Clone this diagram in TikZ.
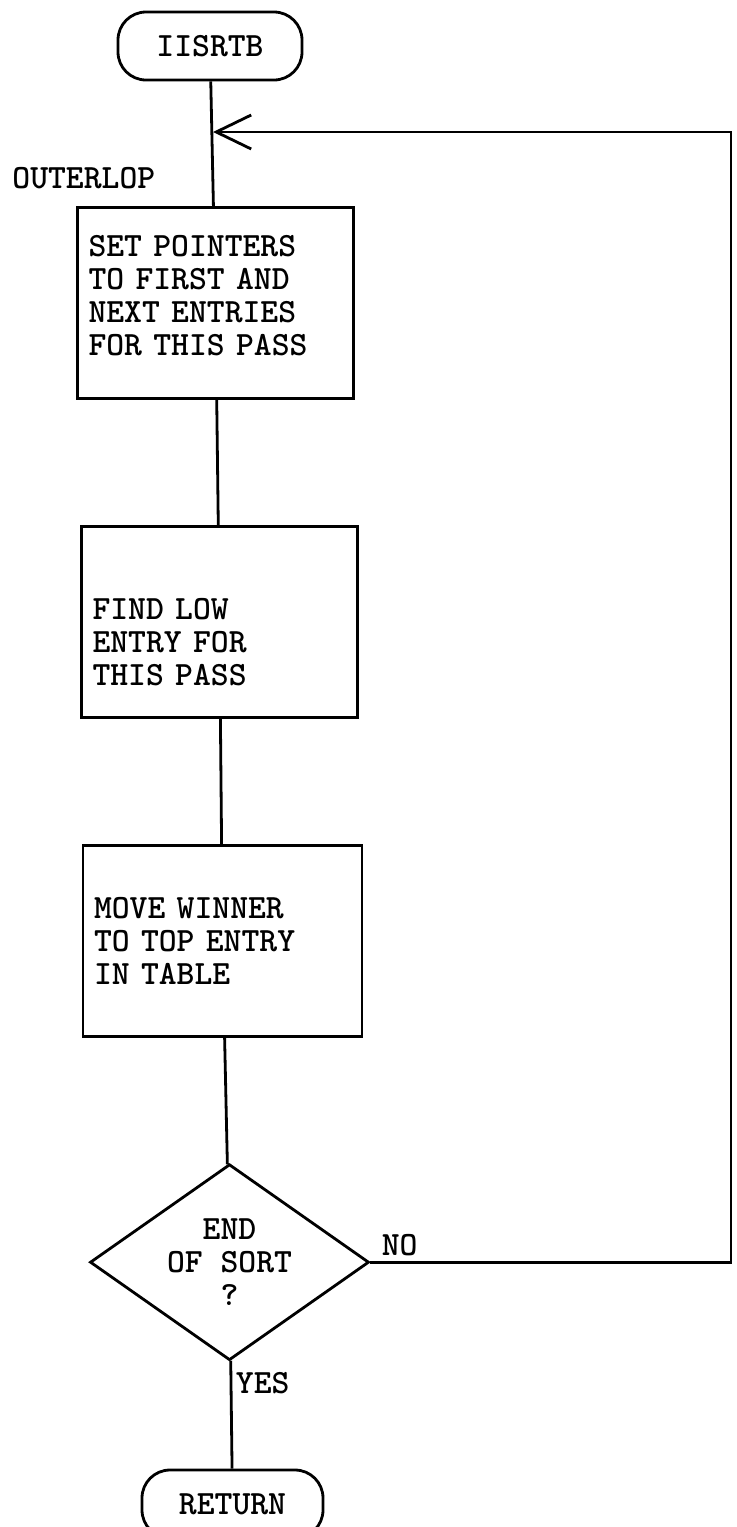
\documentclass[tikz,border=0pt]{standalone}
\usepackage{tikz}
\usetikzlibrary{positioning,arrows.meta,shapes.geometric,calc}

\begin{document}
\begin{tikzpicture}[x=0.5pt, y=-0.5pt, node distance=62.5pt,
    every node/.style={font=\ttfamily\bfseries\fontsize{17}{16.5}\selectfont},
    term/.style={draw, line width=1.4pt, rounded corners=14pt, minimum height=34pt, inner sep=0pt},
    proc/.style={draw, line width=1.4pt, text width=127pt, inner xsep=5.5pt, inner ysep=0pt,
                 minimum height=95.5pt, align=left},
    decide/.style={draw, diamond, aspect=1.42, line width=1.4pt, minimum width=139.5pt,
                   minimum height=98pt, inner sep=0pt, align=center},
    lbl/.style={inner sep=0pt},
    flow/.style={line width=1.4pt}]
  \useasboundingbox (0,0) rectangle (737,1527);

  \node[term, minimum width=92pt] (start) at (210,46) {IISRTB};
  \node[proc, below=of start, xshift=2.75pt] (b1) {SET POINTERS\\TO FIRST AND\\NEXT ENTRIES\\FOR THIS PASS\\[-9pt]\mbox{}};
  \node[proc, below=of b1, xshift=2pt] (b2) {\rule{0pt}{31pt}FIND LOW\\ENTRY FOR\\THIS PASS};
  \node[proc, below=of b2, xshift=1.5pt, minimum width=139.5pt, text width=128.5pt] (b3) {MOVE WINNER\\TO TOP ENTRY\\IN TABLE};
  \node[decide, below=of b3, xshift=3.5pt] (dec) {END\\OF SORT\\?};
  \node[term, below=53.5pt of dec, xshift=1.5pt, minimum width=90.5pt] (ret) {RETURN};

  \node[lbl, anchor=base west] (outer) at (12,188) {OUTERLOP};
  \node[lbl, anchor=south west] (no) at ($(dec.east)+(5.5pt,3pt)$) {NO};
  \node[lbl, anchor=north west] (yes) at ($(dec.south)+(3pt,-5pt)$) {YES};

  \coordinate (join) at (213,132);
  \coordinate (corner) at (731,132);

  \draw[flow] (start) -- (b1);
  \draw[flow] (b1) -- (b2);
  \draw[flow] (b2) -- (b3);
  \draw[flow] (b3) -- (dec);
  \draw[flow] (dec) -- (ret);
  \draw[flow, -{Straight Barb[length=17.5pt, width=17pt]}] (dec.east) -| (corner) -- (join);
\end{tikzpicture}
\end{document}
